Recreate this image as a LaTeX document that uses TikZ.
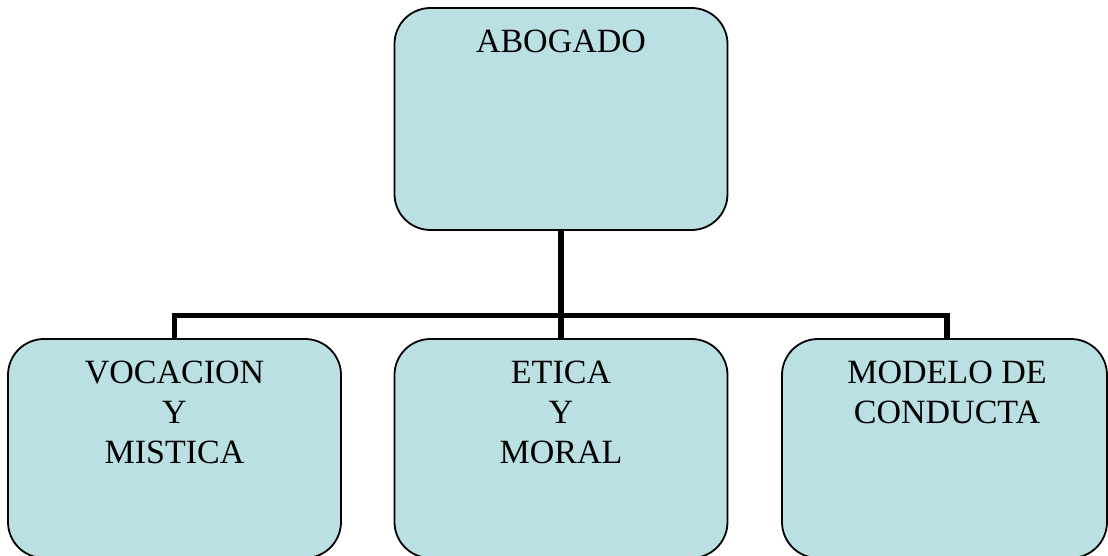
\documentclass[tikz,border=0pt]{standalone}
\usepackage{fontspec}
\setmainfont{Liberation Serif}
\definecolor{boxfill}{RGB}{187,224,227}
\tikzset{
  box/.style={draw=black, line width=1.8pt, fill=boxfill, rounded corners=36pt,
    minimum width=333pt, inner sep=0pt},
  boxtext/.style={inner sep=0pt, align=center, anchor=north,
    font=\fontsize{34pt}{40pt}\selectfont},
  conn/.style={draw=black, line width=5.8pt, line join=miter}
}
\begin{document}
\begin{tikzpicture}[x=1pt,y=-1pt]
  \useasboundingbox (0,0) rectangle (1108,556);
  % boxes
  \node[box, minimum height=222pt] (abogado) at (561,119) {};
  \node[box, minimum height=219pt] (vocacion) at (174.5,448.5) {};
  \node[box, minimum height=219pt] (etica) at (561,448.5) {};
  \node[box, minimum width=325pt, minimum height=219pt] (modelo) at (944.5,448.5) {};
  % texts
  \node[boxtext] (tabogado) at (561,30) {ABOGADO};
  \node[boxtext] (tvocacion) at (174.5,360.5) {VOCACION\\Y\\MISTICA};
  \node[boxtext] (tetica) at (561,360.5) {ETICA\\Y\\MORAL};
  \node[boxtext] (tmodelo) at (947,360.5) {MODELO DE\\CONDUCTA};
  % connectors
  \coordinate (j) at (561,315.5);
  \coordinate (mtop) at ([xshift=2.5pt]modelo.north);
  \draw[conn] (abogado.south) -- (etica.north);
  \draw[conn] (vocacion.north) |- (j) -| (mtop);
\end{tikzpicture}
\end{document}
